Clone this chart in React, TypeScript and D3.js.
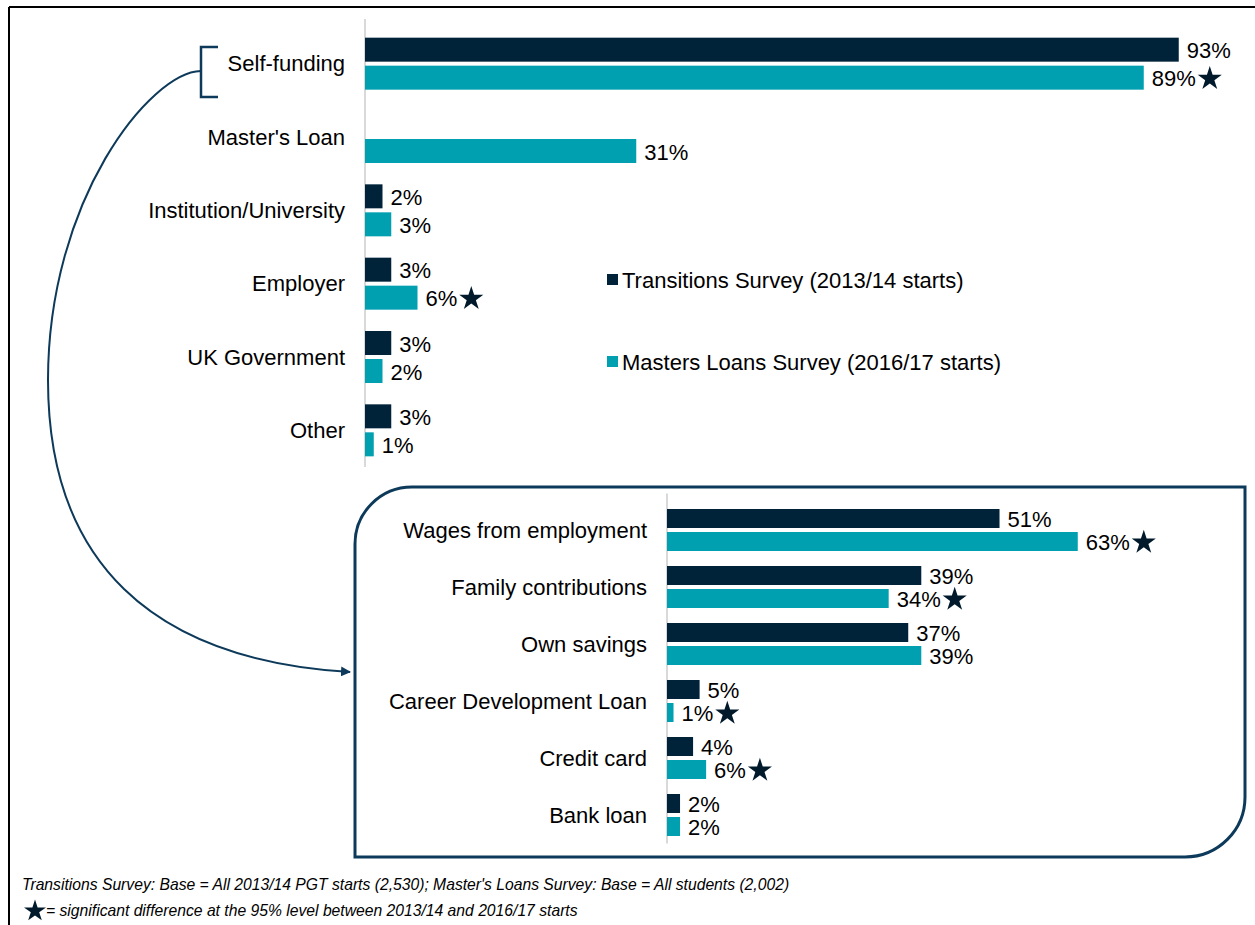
import React from "react";
import * as d3 from "d3";

const topCategories = ["Self-funding", "Master's Loan", "Institution/University", "Employer", "UK Government", "Other"];
const topTransitions: (number | null)[] = [93, null, 2, 3, 3, 3];
const topMasters = [89, 31, 3, 6, 2, 1];
const topSignificant = [true, false, false, true, false, false];

const bottomCategories = ["Wages from employment", "Family contributions", "Own savings", "Career Development Loan", "Credit card", "Bank loan"];
const bottomTransitions = [51, 39, 37, 5, 4, 2];
const bottomMasters = [63, 34, 39, 1, 6, 2];
const bottomSignificant = [true, true, false, true, true, false];

const seriesNames = ["Transitions Survey (2013/14 starts)", "Masters Loans Survey (2016/17 starts)"];
const footnote1 = "Transitions Survey: Base = All 2013/14 PGT starts (2,530); Master's Loans Survey: Base = All students (2,002)";
const footnote2 = "= significant difference at the 95% level between 2013/14 and 2016/17 starts";

const DARK = "#00233a";
const TEAL = "#00a0b0";
const BOX = "#0d3a5a";
const FONT = "'Liberation Sans', Arial, sans-serif";

const starPath = d3.symbol().type(d3.symbolStar).size(180)() as string;

function labelWidth(v: number, fs: number) {
  return String(v).length * 0.556 * fs + 0.889 * fs;
}

function Panel({ cats, tr, ms, sig, x0, pxPerPct, y0, y1, barH, darkOff, tealOff, labelX, fs }: any) {
  const x = d3.scaleLinear().domain([0, 100]).range([x0, x0 + pxPerPct * 100]);
  const y = d3.scaleBand<string>().domain(cats).range([y0, y1]);
  const c = (cat: string) => (y(cat) as number) + y.bandwidth() / 2;
  return (
    <g>
      <line x1={x0} x2={x0} y1={y0 - 8} y2={y1} stroke="#d9d9d9" strokeWidth={2} />
      {cats.map((cat: string, i: number) => {
        const cy = c(cat);
        const t = tr[i];
        const m = ms[i];
        const mLabelX = x(m) + 8;
        return (
          <g key={cat}>
            <text x={labelX} y={cy} textAnchor="end" dominantBaseline="central" fontSize={fs} fill="#000">{cat}</text>
            {t != null && (
              <g>
                <rect x={x0} y={cy + darkOff} width={x(t) - x0} height={barH} fill={DARK} />
                <text x={x(t) + 8} y={cy + darkOff + barH / 2 + 1} dominantBaseline="central" fontSize={fs} fill="#000">{t}%</text>
              </g>
            )}
            <rect x={x0} y={cy + tealOff} width={x(m) - x0} height={barH} fill={TEAL} />
            <text x={mLabelX} y={cy + tealOff + barH / 2 + 1} dominantBaseline="central" fontSize={fs} fill="#000">{m}%</text>
            {sig[i] && (
              <path d={starPath} transform={`translate(${mLabelX + labelWidth(m, fs) + 14},${cy + tealOff + barH / 2 + 1})`} fill="#001a2c" />
            )}
          </g>
        );
      })}
    </g>
  );
}

export default function App() {
  return (
    <svg width={1255} height={925} style={{ position: "absolute", left: 0, top: 0, background: "#fff" }} fontFamily={FONT}>
      <rect x={0} y={0} width={1255} height={925} fill="#fff" />
      <line x1={9} x2={1255} y1={7} y2={7} stroke="#000" strokeWidth={2} />
      <line x1={9} x2={9} y1={7} y2={925} stroke="#000" strokeWidth={2} />

      <Panel cats={topCategories} tr={topTransitions} ms={topMasters} sig={topSignificant}
        x0={365} pxPerPct={8.75} y0={27} y1={467} barH={24} darkOff={-26} tealOff={2} labelX={345} fs={22} />

      <rect x={607} y={274} width={11} height={11} fill={DARK} />
      <text x={622} y={280} dominantBaseline="central" fontSize={22}>{seriesNames[0]}</text>
      <rect x={607} y={356} width={11} height={11} fill={TEAL} />
      <text x={622} y={362} dominantBaseline="central" fontSize={22}>{seriesNames[1]}</text>

      <path d="M355,544 A57,57 0 0 1 412,487 L1245,487 L1245,797 A60,60 0 0 1 1185,857 L355,857 Z" fill="none" stroke={BOX} strokeWidth={3} />

      <Panel cats={bottomCategories} tr={bottomTransitions} ms={bottomMasters} sig={bottomSignificant}
        x0={667} pxPerPct={6.52} y0={501.5} y1={843.5} barH={19} darkOff={-21} tealOff={2} labelX={647} fs={22} />

      <path d="M218,47 L201,47 L201,97 L218,97" fill="none" stroke={BOX} strokeWidth={2.5} />
      <defs>
        <marker id="arr" viewBox="0 0 10 10" refX={9} refY={5} markerWidth={5} markerHeight={5} orient="auto">
          <path d="M0,0 L10,5 L0,10 Z" fill={BOX} />
        </marker>
      </defs>
      <path d="M201,71 C150,72 48,200 48,380 C48,560 150,660 350,672" fill="none" stroke={BOX} strokeWidth={2} markerEnd="url(#arr)" />

      <text x={22} y={890} fontSize={15.7} fontStyle="italic">{footnote1}</text>
      <path d={d3.symbol().type(d3.symbolStar).size(150)() as string} transform="translate(35,911)" fill="#001a2c" />
      <text x={46} y={916} fontSize={15.7} fontStyle="italic">{footnote2}</text>
    </svg>
  );
}
